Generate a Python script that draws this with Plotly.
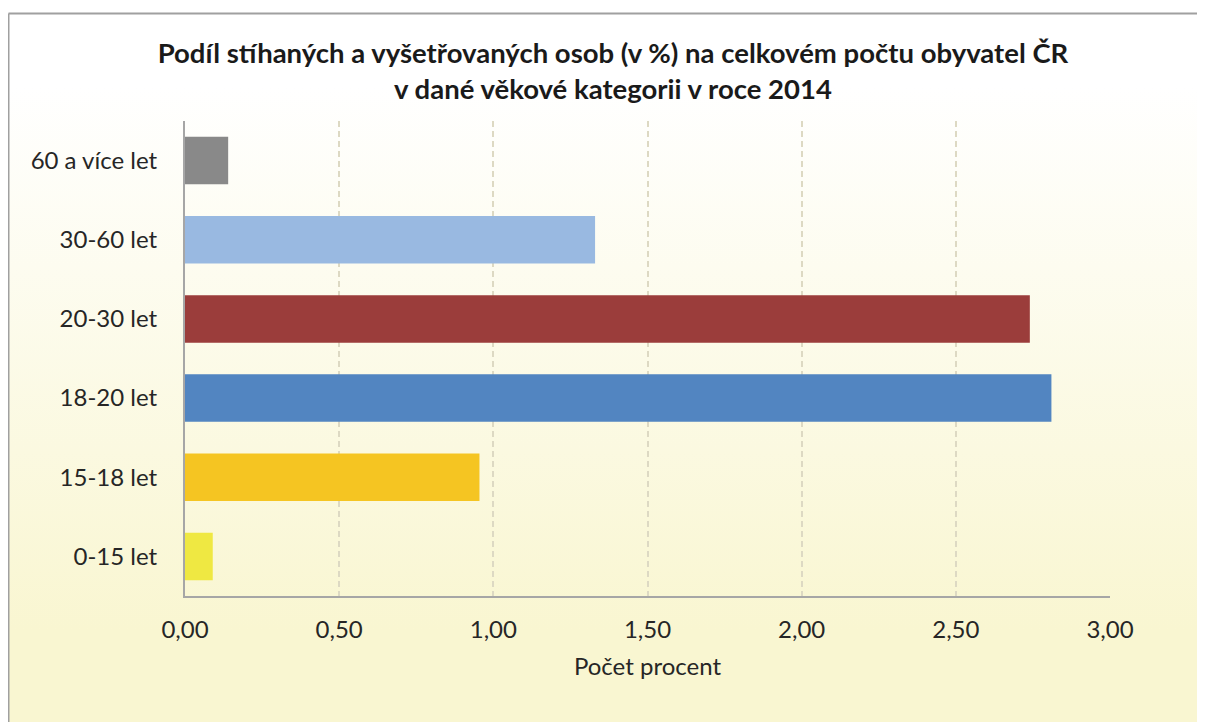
import base64
import plotly.graph_objects as go

categories = ["0-15 let", "15-18 let", "18-20 let", "20-30 let", "30-60 let", "60 a více let"]
values = [0.09, 0.955, 2.81, 2.74, 1.33, 0.14]
colors = ["#EFE842", "#F5C522", "#5285C1", "#9B3D3B", "#99B9E1", "#898989"]
tick_vals = [0, 0.5, 1.0, 1.5, 2.0, 2.5, 3.0]
tick_text = ["0,00", "0,50", "1,00", "1,50", "2,00", "2,50", "3,00"]
title_text = ("<b>Podíl stíhaných a vyšetřovaných osob (v %) na celkovém počtu obyvatel ČR"
              "<br>v dané věkové kategorii v roce 2014</b>")
x_title = "Počet procent"

# page body has an 8px margin, so the figure is offset by (8, 8)
OFF = 8
W, H = 1205 - 2 * OFF, 722 - OFF
L, T = 185 - OFF, 121 - OFF
R = W - (1110 - OFF)
B = H - (596 - OFF)
pw, ph = W - L - R, H - T - B

def px_x(p):
    return (p - OFF - L) / pw

def px_y(p):
    return 1 - (p - OFF - T) / ph

svg = ('<svg xmlns="http://www.w3.org/2000/svg" width="100" height="100" preserveAspectRatio="none">'
       '<defs><linearGradient id="g" x1="0" y1="0" x2="0" y2="1">'
       '<stop offset="0" stop-color="#FFFFFF"/><stop offset="0.1" stop-color="#FFFFFF"/>'
       '<stop offset="0.85" stop-color="#F9F6D1"/><stop offset="1" stop-color="#F9F6D1"/>'
       '</linearGradient></defs>'
       '<rect width="100" height="100" fill="url(#g)"/></svg>')
src = "data:image/svg+xml;base64," + base64.b64encode(svg.encode()).decode()

fig = go.Figure(go.Bar(
    y=categories, x=values, orientation="h",
    marker=dict(color=colors, line=dict(width=0)),
    width=0.6,
))

font_family = "Lato, 'Open Sans', sans-serif"
border = dict(color="#A0A0A0", width=2)

fig.update_layout(
    width=W, height=H,
    margin=dict(l=L, r=R, t=T, b=B),
    paper_bgcolor="white",
    plot_bgcolor="white",
    font=dict(family=font_family, size=24, color="#262626"),
    title=dict(text=title_text, xref="container", x=(613 - OFF) / W, xanchor="center",
               yref="container", y=1 - (63 - OFF) / H, yanchor="middle",
               font=dict(size=27.5, color="#1a1a1a", family=font_family)),
    showlegend=False,
    images=[dict(source=src, xref="paper", yref="paper",
                 x=px_x(9), y=px_y(14), sizex=(1240 - 9) / pw, sizey=(740 - 14) / ph,
                 xanchor="left", yanchor="top", sizing="stretch", layer="below")],
    shapes=[
        dict(type="line", xref="paper", yref="paper",
             x0=px_x(8.5), y0=px_y(13.5), x1=px_x(1260), y1=px_y(13.5), line=border),
        dict(type="line", xref="paper", yref="paper",
             x0=px_x(8.5), y0=px_y(13.5), x1=px_x(8.5), y1=px_y(760), line=border),
    ],
)

fig.update_xaxes(
    range=[0, 3.0],
    tickvals=tick_vals, ticktext=tick_text,
    showgrid=True, gridcolor="#DDD9C3", griddash="6px,4px", gridwidth=1.5,
    showline=True, linecolor="#A6A6A6", linewidth=2,
    ticks="outside", ticklen=11, tickcolor="rgba(0,0,0,0)",
    zeroline=False,
    title=dict(text=x_title, font=dict(size=24), standoff=16),
    tickfont=dict(size=24),
)
fig.update_yaxes(
    categoryorder="array", categoryarray=categories,
    showgrid=False, zeroline=False,
    showline=True, linecolor="#A6A6A6", linewidth=2,
    ticks="outside", ticklen=21, tickcolor="rgba(0,0,0,0)",
    tickfont=dict(size=24),
)

fig.write_html("out.html")
